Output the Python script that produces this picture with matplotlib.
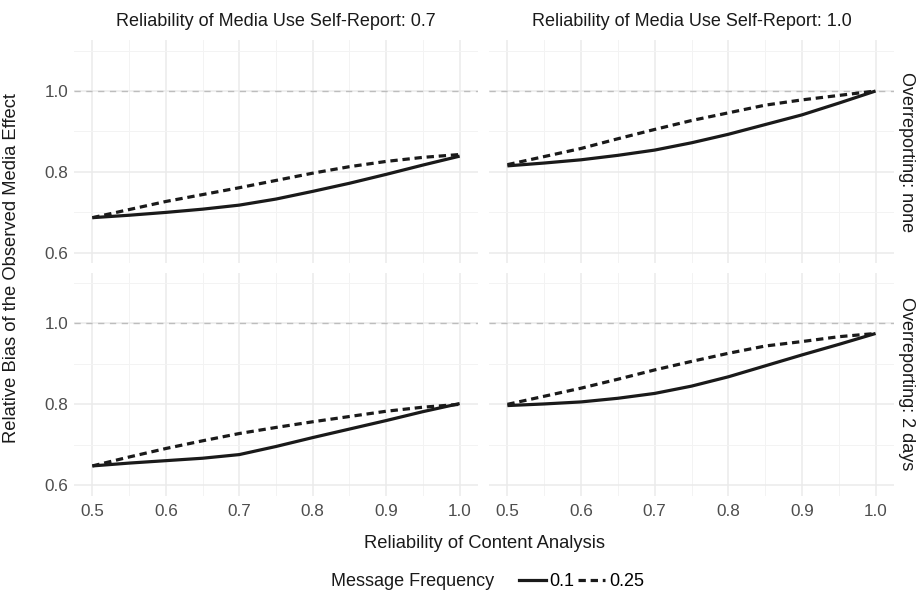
import matplotlib
matplotlib.use("Agg")
import matplotlib.pyplot as plt
from matplotlib.lines import Line2D

plt.rcParams["font.family"] = ["Liberation Sans", "DejaVu Sans"]

# reliability of content analysis (x)
reliability = [0.5, 0.55, 0.6, 0.65, 0.7, 0.75, 0.8, 0.85, 0.9, 0.95, 1.0]

# self-report 0.7, overreporting none
tl_01 = [0.687, 0.693, 0.700, 0.708, 0.718, 0.733, 0.752, 0.772, 0.794, 0.817, 0.839]
tl_025 = [0.687, 0.707, 0.727, 0.744, 0.761, 0.779, 0.797, 0.813, 0.826, 0.836, 0.843]
# self-report 1.0, overreporting none
tr_01 = [0.815, 0.822, 0.830, 0.841, 0.854, 0.872, 0.893, 0.917, 0.941, 0.970, 1.0]
tr_025 = [0.818, 0.838, 0.858, 0.882, 0.905, 0.927, 0.946, 0.965, 0.978, 0.989, 1.0]
# self-report 0.7, overreporting 2 days
bl_01 = [0.648, 0.655, 0.661, 0.667, 0.676, 0.696, 0.718, 0.739, 0.760, 0.782, 0.802]
bl_025 = [0.648, 0.670, 0.691, 0.710, 0.728, 0.743, 0.757, 0.770, 0.783, 0.793, 0.800]
# self-report 1.0, overreporting 2 days
br_01 = [0.797, 0.801, 0.806, 0.815, 0.827, 0.845, 0.868, 0.895, 0.922, 0.948, 0.975]
br_025 = [0.800, 0.820, 0.840, 0.862, 0.885, 0.906, 0.926, 0.944, 0.955, 0.967, 0.975]

col_labels = ["Reliability of Media Use Self-Report: 0.7", "Reliability of Media Use Self-Report: 1.0"]
row_labels = ["Overreporting: none", "Overreporting: 2 days"]
freq_labels = ["0.1", "0.25"]

W, H = 918, 593
fig = plt.figure(figsize=(W / 100, H / 100), dpi=100)


def px_axes(x0, y0, x1, y1):
    return fig.add_axes([x0 / W, 1 - y1 / H, (x1 - x0) / W, (y1 - y0) / H])


cols = [(74, 478), (489, 894)]
rows = [(40.4, 263), (272.7, 495.5)]
panels = [[(tl_01, tl_025), (tr_01, tr_025)], [(bl_01, bl_025), (br_01, br_025)]]

lw = 2.3
dash = (0, (2.3, 1.5))
line_col = "#1a1a1a"
txt_col = "#1a1a1a"

for r, (y0, y1) in enumerate(rows):
    for c, (x0, x1) in enumerate(cols):
        ax = px_axes(x0, y0, x1, y1)
        ax.set_xlim(0.475, 1.025)
        ax.set_ylim(0.575, 1.125)
        ax.set_xticks([0.5, 0.6, 0.7, 0.8, 0.9, 1.0])
        ax.set_xticks([0.55, 0.65, 0.75, 0.85, 0.95], minor=True)
        ax.set_yticks([0.6, 0.8, 1.0])
        ax.set_yticks([0.7, 0.9, 1.1], minor=True)
        ax.grid(which="major", color="#ebebeb", lw=1.1)
        ax.grid(which="minor", color="#f3f3f3", lw=0.7)
        ax.set_axisbelow(True)
        for s in ax.spines.values():
            s.set_visible(False)
        ax.tick_params(which="both", length=0, labelsize=12.3, labelcolor="#4d4d4d")
        ax.tick_params(axis="x", pad=6)
        ax.tick_params(axis="y", pad=4)
        if r == 0:
            ax.set_xticklabels([])
            ax.text(0.5, 1 + (y0 - 21.7) / (y1 - y0), col_labels[c], transform=ax.transAxes,
                    ha="center", va="center", fontsize=13, color=txt_col)
        if c == 1:
            ax.set_yticklabels([])
            ax.text(1 + (906 - x1) / (x1 - x0), 0.5, row_labels[r], transform=ax.transAxes,
                    rotation=270, va="center", ha="center", fontsize=13, color=txt_col)
        ax.axhline(1.0, color="#bdbdbd", lw=1.0, ls=(0, (4.5, 4)), zorder=1)
        s01, s025 = panels[r][c]
        ax.plot(reliability, s01, color=line_col, lw=lw, solid_capstyle="butt", zorder=3)
        ax.plot(reliability, s025, color=line_col, lw=lw, ls=dash, zorder=3)

fig.text(484 / W, 1 - 543 / H, "Reliability of Content Analysis", ha="center", va="center",
         fontsize=13.2, color=txt_col)
fig.text(12 / W, 1 - 268 / H, "Relative Bias of the Observed Media Effect", rotation=90,
         ha="center", va="center", fontsize=13.2, color=txt_col)

fig.text(412.5 / W, 1 - 581.5 / H, "Message Frequency", ha="center", va="center",
         fontsize=13, color=txt_col)
handles = [Line2D([], [], color=line_col, lw=lw),
           Line2D([], [], color=line_col, lw=lw, ls=dash)]
fig.legend(handles, freq_labels, loc="center left", bbox_to_anchor=(519 / W, 1 - 581.5 / H),
           ncol=2, frameon=False, fontsize=13, handlelength=1.5, handletextpad=0.2,
           columnspacing=0.2, borderaxespad=0, borderpad=0)

fig.savefig("out.png", dpi=100, facecolor="white")
